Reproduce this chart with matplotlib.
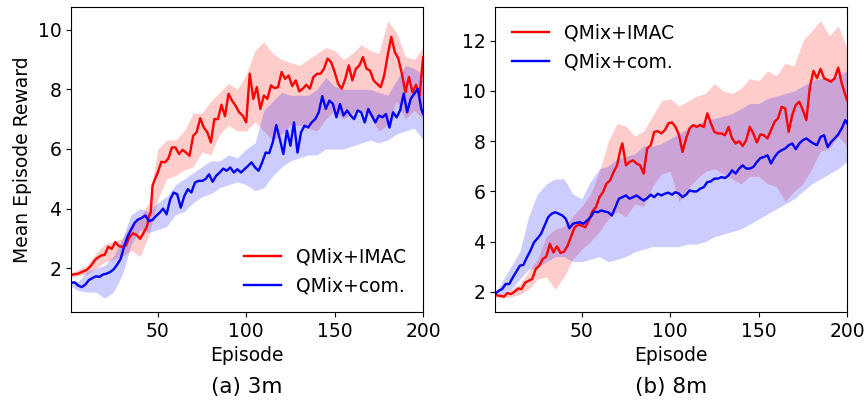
import numpy as np
import matplotlib
matplotlib.use("Agg")
import matplotlib.pyplot as plt

# ---- (a) 3m ----
a_imac_x = [1, 5, 10, 12, 15, 18,
            20, 22, 24, 26, 28, 30, 32, 34, 36, 38, 40, 42, 44,
            45, 46, 47, 48,
            50, 52, 54, 56, 58, 60, 62, 64, 66, 68,
            70, 72, 74, 76, 78, 80, 82, 84, 86, 88,
            90, 92, 94, 96, 98, 100, 102, 104, 106, 108,
            110, 112, 114, 116, 118, 120, 122, 124, 126, 128,
            130, 132, 134, 136, 138, 140, 142, 144, 146, 148,
            150, 152, 154, 156, 158, 160, 162, 164, 166, 168,
            170, 172, 174, 176, 178, 180, 182, 184, 186, 188,
            190, 192, 194, 196, 198, 200]
a_imac = [1.78, 1.82, 1.95, 2.07, 2.31, 2.43,
          2.45, 2.72, 2.65, 2.88, 2.74, 2.72, 2.76, 3.05, 3.17, 3.12, 2.99, 3.19, 3.41,
          3.75, 3.86, 4.76, 4.93,
          5.21, 5.57, 5.55, 5.68, 6.05, 6.05, 5.83, 5.97, 5.88, 5.77,
          6.44, 6.56, 7.03, 6.72, 6.56, 6.22, 7.00, 7.00, 7.48, 7.10,
          7.85, 7.62, 7.45, 7.23, 7.12, 6.89, 8.52, 7.68, 8.07, 7.34,
          7.79, 7.68, 8.13, 8.04, 8.07, 8.58, 8.35, 8.46, 8.11, 8.30,
          7.93, 8.02, 8.15, 8.02, 8.41, 8.52, 8.52, 8.69, 9.03, 8.91,
          8.58, 8.18, 8.02, 8.35, 8.80, 8.30, 8.69, 8.80, 9.08, 8.69,
          8.63, 8.30, 8.18, 8.07, 8.46, 9.14, 9.76, 9.25, 9.03, 8.52,
          7.90, 8.41, 7.90, 8.15, 7.79, 9.08]

a_com_x = list(range(1, 200, 2)) + [200]
a_com = [1.51, 1.53, 1.42, 1.37, 1.45, 1.60, 1.67, 1.73, 1.71, 1.79,
         1.82, 1.87, 1.96, 2.12, 2.31, 2.74, 3.08, 3.30, 3.53, 3.64,
         3.69, 3.77, 3.58, 3.62, 3.75, 3.86, 4.00, 3.81, 4.31, 4.54,
         4.48, 4.03, 4.42, 4.65, 4.54, 4.87, 4.93, 4.93, 4.99, 5.15,
         4.90, 5.10, 5.21, 5.34, 5.27, 5.38, 5.21, 5.32, 5.21, 5.32,
         5.43, 5.55, 5.38, 5.27, 5.55, 5.88, 5.86, 6.22, 6.80, 6.33,
         5.83, 6.61, 6.11, 6.89, 5.88, 6.56, 6.78, 6.72, 6.89, 7.00,
         7.23, 7.77, 7.34, 7.62, 7.51, 7.06, 7.51, 7.12, 7.29, 7.12,
         7.00, 7.29, 7.23, 6.89, 7.34, 7.12, 6.89, 7.12, 7.06, 7.17,
         6.72, 7.23, 7.06, 7.29, 7.85, 7.23, 7.68, 7.85, 8.02, 7.34,
         7.17]

band_x = [1] + list(range(5, 201, 5))
a_imac_hi = [1.85, 1.95, 2.1, 2.5, 2.8, 2.9, 3.0, 3.5, 3.7, 4.2,
             6.0, 6.3, 6.3, 6.6, 7.2, 7.2, 7.6, 7.9, 8.2, 8.0,
             8.5, 9.3, 9.6, 9.2, 9.0, 8.9, 8.8, 9.0, 9.2, 9.4,
             9.3, 9.0, 9.2, 9.5, 9.3, 9.2, 10.3, 9.9, 9.1, 9.0, 9.4]
a_imac_lo = [1.7, 1.75, 1.8, 2.0, 2.2, 2.3, 2.4, 2.6, 2.4, 3.1,
             4.3, 5.0, 5.1, 5.3, 5.4, 5.9, 5.8, 6.5, 6.8, 6.6,
             6.6, 6.9, 6.6, 6.3, 6.5, 6.8, 6.8, 6.7, 6.6, 7.0,
             7.3, 7.0, 7.2, 7.3, 7.1, 6.6, 6.8, 7.6, 7.0, 7.3, 7.0]
a_com_hi = [1.6, 1.55, 1.9, 2.0, 2.1, 2.4, 3.0, 3.8, 4.0, 3.9,
            4.2, 4.4, 4.8, 5.0, 5.2, 5.4, 5.6, 5.6, 5.8, 5.7,
            6.0, 6.2, 7.3, 7.6, 7.9, 7.8, 7.8, 7.8, 8.0, 8.4,
            8.1, 8.0, 8.0, 8.0, 8.0, 7.9, 7.8, 8.3, 8.8, 8.7, 8.5]
a_com_lo = [1.4, 1.25, 1.2, 1.2, 1.0, 1.2, 1.8, 2.8, 3.3, 3.2,
            3.3, 3.4, 3.8, 3.9, 4.2, 4.4, 4.5, 4.7, 4.8, 4.9,
            4.8, 4.6, 4.7, 5.1, 5.4, 5.6, 5.7, 5.8, 5.8, 6.0,
            6.0, 6.0, 6.1, 6.2, 6.3, 6.2, 6.3, 6.5, 6.6, 6.7, 6.3]

# ---- (b) 8m ----
b_imac_x = [1] + list(range(4, 73, 2)) + [73] + list(range(75, 200, 2)) + [200]
b_imac = [1.87,
          1.84, 1.81, 1.95, 1.91, 2.00, 2.13, 2.11, 2.37, 2.44, 2.51,
          2.91, 3.04, 3.31, 3.41, 3.91, 3.57, 3.81, 3.55, 3.60, 3.84,
          4.21, 4.57, 4.67, 4.64, 4.57, 4.84, 5.20, 5.37, 5.77, 5.97,
          6.31, 6.44, 6.77, 7.04, 7.71,
          7.91,
          7.04, 7.17, 7.24, 7.11, 7.04, 6.71, 7.71, 7.84, 8.37, 8.40,
          8.31, 8.44, 8.71, 8.75, 8.57, 8.24, 7.57, 8.11, 8.51, 8.64,
          8.57, 8.64, 8.57, 9.11, 8.71, 8.37, 8.31, 8.31, 8.24, 8.57,
          8.11, 7.91, 8.00, 7.81, 8.04, 8.57, 8.31, 7.95, 8.27, 8.24,
          8.11, 8.44, 8.77, 8.91, 9.37, 9.31, 8.37, 9.04, 9.44, 9.57,
          9.24, 8.84, 10.17, 10.80, 10.51, 10.88, 10.51, 10.44, 10.37, 10.51,
          10.93, 10.31, 9.84,
          9.64]

b_com_x = list(range(1, 200, 2)) + [200]
b_com = [1.91, 2.04, 2.11, 2.31, 2.31, 2.57, 2.80, 3.04, 3.07, 3.37,
         3.64, 3.97, 4.13, 4.31, 4.64, 4.97, 5.11, 5.17, 5.11, 5.04,
         4.91, 4.53, 4.71, 4.75, 4.77, 4.71, 4.84, 4.97, 5.20, 5.17,
         5.24, 5.20, 5.17, 5.04, 5.37, 5.71, 5.77, 5.84, 5.71, 5.77,
         5.84, 5.73, 5.64, 5.73, 5.87, 5.77, 5.91, 5.84, 5.91, 5.95,
         5.87, 5.97, 5.91, 5.77, 5.87, 6.04, 6.00, 6.00, 6.11, 6.17,
         6.37, 6.40, 6.51, 6.51, 6.57, 6.53, 6.64, 6.84, 6.71, 6.91,
         7.04, 6.91, 6.91, 6.97, 7.17, 7.33, 7.37, 7.44, 7.11, 7.37,
         7.55, 7.64, 7.71, 7.84, 7.91, 7.68, 7.91, 8.04, 8.11, 8.00,
         7.91, 7.84, 8.17, 8.24, 7.77, 7.97, 8.11, 8.27, 8.51, 8.84,
         8.71]

b_imac_hi = [1.9, 1.9, 2.1, 2.3, 2.8, 3.3, 4.2, 4.5, 4.6, 5.0,
             5.4, 5.9, 6.8, 8.0, 8.7, 8.6, 8.2, 8.4, 9.0, 9.6,
             9.7, 9.4, 9.6, 9.8, 9.9, 10.3, 10.0, 9.9, 10.1, 10.5,
             10.4, 10.8, 10.6, 11.1, 11.0, 12.0, 12.4, 12.8, 12.2, 12.6, 11.7]
b_imac_lo = [1.8, 1.75, 1.8, 1.9, 2.1, 2.5, 2.6, 2.1, 2.6, 3.3,
             3.7, 4.0, 4.4, 4.9, 5.2, 5.0, 5.5, 5.4, 6.2, 6.7,
             6.8, 5.6, 6.1, 6.5, 6.8, 6.9, 6.7, 6.5, 6.3, 6.6,
             6.6, 6.3, 6.2, 5.6, 6.0, 6.3, 6.9, 7.6, 7.7, 8.2, 7.8]
b_com_hi = [1.95, 2.4, 3.0, 3.6, 5.0, 5.9, 6.3, 6.5, 6.5, 5.9,
            5.7, 6.4, 6.9, 7.0, 7.3, 7.4, 7.5, 7.8, 7.8, 7.9,
            8.1, 8.3, 8.5, 8.7, 8.8, 8.9, 9.0, 9.1, 9.3, 9.5,
            9.5, 9.7, 9.8, 9.9, 10.0, 10.2, 10.4, 10.5, 10.5, 10.6, 10.8]
b_com_lo = [1.85, 1.9, 2.1, 2.5, 2.9, 3.0, 3.2, 3.4, 3.4, 3.2,
            3.2, 3.3, 3.4, 3.2, 3.3, 3.4, 3.6, 3.7, 3.8, 3.8,
            3.8, 3.8, 3.9, 3.9, 4.0, 4.2, 4.3, 4.4, 4.5, 4.7,
            4.9, 5.1, 5.3, 5.5, 5.7, 6.0, 6.3, 6.5, 6.7, 6.9, 7.2]

labels = ["QMix+IMAC", "QMix+com."]
FS = 13.5

fig = plt.figure(figsize=(8.67, 4.01), dpi=100)
ax1 = fig.add_axes([0.082, 0.222, 0.406, 0.761])
ax2 = fig.add_axes([0.571, 0.222, 0.406, 0.761])

panels = [
    (ax1, a_imac_x, a_imac, a_com_x, a_com, a_imac_lo, a_imac_hi, a_com_lo, a_com_hi, "lower right", "(a) 3m"),
    (ax2, b_imac_x, b_imac, b_com_x, b_com, b_imac_lo, b_imac_hi, b_com_lo, b_com_hi, "upper left", "(b) 8m"),
]

for ax, rx, ry, bx, by, rlo, rhi, blo, bhi, loc, sub in panels:
    ax.fill_between(band_x, rlo, rhi, color="r", alpha=0.2, lw=0)
    ax.fill_between(band_x, blo, bhi, color="b", alpha=0.2, lw=0)
    ax.plot(rx, ry, color="r", lw=1.7, label=labels[0])
    ax.plot(bx, by, color="b", lw=1.7, label=labels[1])
    ax.set_xlim(1, 200)
    ax.set_xticks([50, 100, 150, 200])
    ax.tick_params(labelsize=FS)
    ax.set_xlabel("Episode", fontsize=FS, labelpad=4)
    ax.legend(loc=loc, frameon=False, fontsize=FS)
    pos = ax.get_position()
    fig.text((pos.x0 + pos.x1) / 2, 1 - 387 / 401, sub, ha="center", va="center", fontsize=15.5)

ax1.set_ylabel("Mean Episode Reward", fontsize=FS)
ax1.set_yticks([2, 4, 6, 8, 10])
ax2.set_yticks([2, 4, 6, 8, 10, 12])

fig.savefig("out.png", dpi=100)
